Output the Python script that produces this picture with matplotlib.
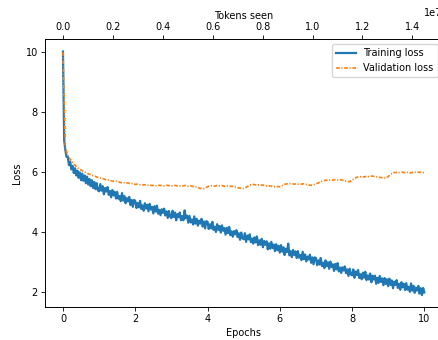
import numpy as np
import matplotlib
matplotlib.use("Agg")
import matplotlib.pyplot as plt
from matplotlib.ticker import MultipleLocator

plt.rcParams['font.family'] = ['DejaVu Sans']
plt.rcParams['font.size'] = 7

train_losses = [
    10.02, 7.05, 6.72, 6.50, 6.50, 6.22, 6.34, 6.08, 6.20, 5.96,
    6.12, 5.88, 6.04, 5.80, 5.98, 5.72, 5.94, 5.70, 5.88, 5.62,
    5.84, 5.58, 5.76, 5.52, 5.72, 5.46, 5.66, 5.42, 5.62, 5.38,
    5.35, 5.59, 5.37, 5.52, 5.25, 5.46, 5.34, 5.49, 5.23, 5.36,
    5.15, 5.39, 5.21, 5.33, 5.11, 5.33, 5.10, 5.19, 5.02, 5.29,
    5.04, 5.19, 4.95, 5.12, 5.01, 5.16, 4.89, 5.06, 4.83, 5.06,
    5.03, 4.79, 4.96, 4.81, 5.03, 4.76, 4.88, 4.70, 4.95, 4.77,
    4.90, 4.68, 4.93, 4.74, 4.83, 4.61, 4.85, 4.67, 4.87, 4.60,
    4.73, 4.55, 4.75, 4.63, 4.77, 4.54, 4.68, 4.46, 4.69, 4.51,
    4.45, 4.70, 4.49, 4.64, 4.38, 4.59, 4.48, 4.64, 4.38, 4.52,
    4.38, 4.71, 4.45, 4.54, 4.30, 4.53, 4.31, 4.41, 4.24, 4.51,
    4.27, 4.43, 4.20, 4.37, 4.27, 4.43, 4.17, 4.34, 4.11, 4.35,
    4.33, 4.09, 4.25, 4.11, 4.33, 4.06, 4.17, 3.99, 4.25, 4.06,
    4.19, 3.97, 4.21, 4.03, 4.12, 3.90, 4.13, 3.95, 4.16, 3.88,
    4.01, 3.83, 4.02, 3.91, 4.05, 3.82, 3.95, 3.73, 3.97, 3.78,
    3.75, 3.95, 3.66, 3.87, 3.74, 3.91, 3.65, 3.77, 3.60, 3.81,
    3.64, 3.84, 3.55, 3.71, 3.56, 3.76, 3.48, 3.69, 3.56, 3.68,
    3.41, 3.61, 3.43, 3.66, 3.45, 3.57, 3.35, 3.58, 3.38, 3.53,
    3.30, 3.55, 3.33, 3.48, 3.22, 3.43, 3.32, 3.60, 3.21, 3.35,
    3.15, 3.39, 3.22, 3.34, 3.12, 3.35, 3.13, 3.22, 3.05, 3.33,
    3.08, 3.24, 3.01, 3.17, 3.07, 3.23, 2.96, 3.14, 2.91, 3.14,
    3.12, 2.88, 3.04, 2.90, 3.12, 2.85, 2.96, 2.78, 3.04, 2.85,
    2.98, 2.76, 3.00, 2.82, 2.91, 2.69, 2.92, 2.74, 2.95, 2.67,
    2.80, 2.62, 2.81, 2.70, 2.84, 2.61, 2.74, 2.52, 2.76, 2.57,
    2.54, 2.74, 2.46, 2.67, 2.55, 2.72, 2.45, 2.58, 2.41, 2.63,
    2.46, 2.66, 2.38, 2.54, 2.40, 2.60, 2.31, 2.53, 2.40, 2.53,
    2.26, 2.46, 2.29, 2.52, 2.32, 2.44, 2.21, 2.45, 2.25, 2.41,
    2.18, 2.43, 2.22, 2.37, 2.11, 2.33, 2.22, 2.38, 2.12, 2.26,
    2.06, 2.31, 2.14, 2.26, 2.05, 2.28, 2.06, 2.16, 1.99, 2.27,
    2.03, 2.19, 1.96, 2.13, 2.03, 2.19, 1.93, 2.11, 1.88, 2.12,
    1.97,
]

val_losses = [
    10.00, 6.80, 6.55, 6.42, 6.32, 6.22, 6.14, 6.08, 6.04, 5.99, 5.95, 5.92, 5.88, 5.86, 5.83,
    5.80, 5.78, 5.76, 5.73, 5.72, 5.70, 5.68, 5.69, 5.66, 5.64, 5.65, 5.62, 5.63, 5.60, 5.61,
    5.58, 5.59, 5.57, 5.56, 5.57, 5.55, 5.56, 5.54, 5.55, 5.53, 5.55, 5.54, 5.53, 5.55, 5.54,
    5.53, 5.55, 5.54, 5.52, 5.54, 5.53, 5.55, 5.52, 5.53, 5.51, 5.50, 5.47, 5.45, 5.43, 5.46,
    5.50, 5.53, 5.54, 5.52, 5.55, 5.53, 5.54, 5.52, 5.53, 5.51, 5.52, 5.50, 5.48, 5.46, 5.45,
    5.44, 5.48, 5.53, 5.57, 5.58, 5.56, 5.57, 5.55, 5.56, 5.54, 5.52, 5.53, 5.51, 5.50, 5.51,
    5.50, 5.54, 5.58, 5.60, 5.61, 5.60, 5.59, 5.60, 5.58, 5.59, 5.60, 5.58, 5.56, 5.55, 5.57,
    5.60, 5.63, 5.67, 5.70, 5.72, 5.71, 5.73, 5.72, 5.74, 5.73, 5.74, 5.72, 5.70, 5.68, 5.67,
    5.72, 5.78, 5.82, 5.83, 5.84, 5.83, 5.85, 5.84, 5.86, 5.85, 5.84, 5.82, 5.81, 5.80, 5.79,
    5.84, 5.92, 5.97, 5.98, 5.97, 5.98, 5.99, 5.97, 5.98, 5.96, 5.98, 5.99, 5.98, 5.99, 5.97,
    5.98,
]

num_epochs = 10
total_tokens = 1.448e7

train_epochs = np.linspace(0, num_epochs, len(train_losses))
val_epochs = np.linspace(0, num_epochs, len(val_losses))
tokens_seen = np.linspace(0, total_tokens, len(train_losses))

fig = plt.figure(figsize=(4.38, 3.40), dpi=100)
ax = fig.add_axes([44.9 / 438, 0.0962, (442.4 - 44.9) / 438, 0.788])

ax.plot(train_epochs, train_losses, color='#1f77b4', lw=1.6, label='Training loss')
ax.plot(val_epochs, val_losses, color='#ff7f0e', lw=1.2,
        linestyle=(0, (2.2, 1.0, 0.7, 1.0)), label='Validation loss')
ax.set_xlabel('Epochs', labelpad=2.8)
ax.set_ylabel('Loss', labelpad=2.8)
ax.yaxis.set_major_locator(MultipleLocator(2))
ax.tick_params(length=2.6, width=0.6, pad=2.4)
for s in ax.spines.values():
    s.set_linewidth(0.6)
ax.legend(loc='upper right', fontsize=7)

ax2 = ax.twiny()
ax2.plot(tokens_seen, train_losses, alpha=0)
ax2.set_xlabel('Tokens seen', labelpad=2.8)
ax2.tick_params(length=2.6, width=0.6, pad=2.4)
for s in ax2.spines.values():
    s.set_linewidth(0.6)

fig.savefig('out.png', dpi=100)
